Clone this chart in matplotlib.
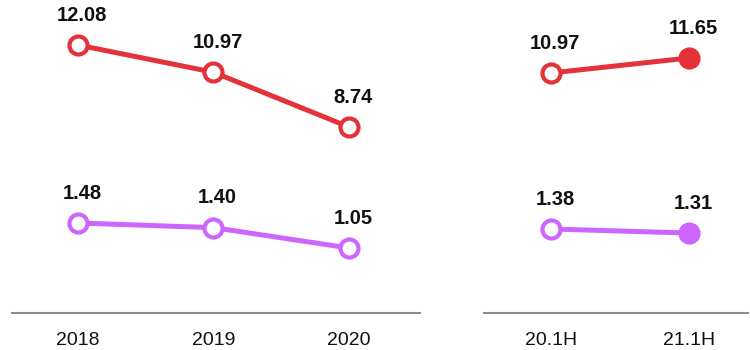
import matplotlib
matplotlib.use("Agg")
import matplotlib.pyplot as plt

# ---- data ----
years = ["2018", "2019", "2020"]
red_year = [12.08, 10.97, 8.74]
purple_year = [1.48, 1.40, 1.05]

halves = ["20.1H", "21.1H"]
red_half = [10.97, 11.65]
purple_half = [1.38, 1.31]

RED = "#E3323A"
PURPLE = "#CC66FF"
TXT = "#111111"

plt.rcParams["font.family"] = ["Liberation Sans", "DejaVu Sans"]

fig = plt.figure(figsize=(7.5, 3.5), dpi=100)

def panel(rect, cats, reds, purples, xlim, red_lim, pur_lim, filled_last):
    ax = fig.add_axes(rect)
    ax2 = ax.twinx()
    x = list(range(len(cats)))
    for a, vals, col, lim in ((ax, reds, RED, red_lim), (ax2, purples, PURPLE, pur_lim)):
        a.set_ylim(*lim)
        a.set_xlim(*xlim)
        a.plot(x, vals, color=col, lw=3.6, solid_capstyle="round", clip_on=False, zorder=2)
        for i, v in enumerate(vals):
            fc = col if (filled_last and i == len(vals) - 1) else "white"
            a.plot([i], [v], marker="o", ms=13, mew=3, mec=col, mfc=fc, clip_on=False, zorder=3)
            a.annotate(f"{v:.2f}", (i, v), xytext=(3, 17.5), textcoords="offset points",
                       ha="center", va="baseline", fontsize=14.5, fontweight="bold", color=TXT)
        a.set_yticks([])
        for s in ("top", "right", "left", "bottom"):
            a.spines[s].set_visible(False)
    ax.spines["bottom"].set_visible(True)
    ax.spines["bottom"].set_color("#8c8c8c")
    ax.spines["bottom"].set_linewidth(1.5)
    ax.set_xticks(x)
    ax.set_xticklabels(cats, fontsize=14, color=TXT)
    ax.tick_params(axis="x", length=0, pad=14)
    ax2.tick_params(axis="x", length=0)
    return ax, ax2

panel([12/750, 37/350, 408/750, 313/350], years, red_year, purple_year,
      (-0.487, 2.524), (1.164, 13.913), (-0.069, 5.318), False)
panel([484/750, 37/350, 264/750, 313/350], halves, red_half, purple_half,
      (-0.486, 1.428), (0.06, 14.286), (-0.066, 5.321), True)

fig.savefig("out.png", dpi=100)
